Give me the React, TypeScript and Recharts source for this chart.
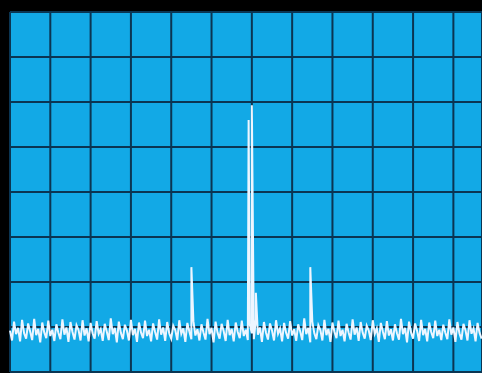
import { ComposedChart, Line, XAxis, YAxis, CartesianGrid } from "recharts";

// noise floor of the trace, one sample every 0.05 division
const noise = [
  0.92, 0.70, 1.12, 0.84, 0.98, 0.68, 1.16, 0.86, 0.74, 1.08, 0.90, 0.71, 1.18, 0.82, 0.96, 0.66, 1.10, 0.88, 0.75, 1.14,
  0.80, 0.94, 0.69, 1.06, 0.87, 0.73, 1.17, 0.83, 0.99, 0.67, 1.11, 0.89, 0.72, 1.04, 0.93, 0.70, 1.15, 0.81, 0.97, 0.68,
  1.09, 0.86, 0.74, 1.13, 0.85, 0.95, 0.69, 1.07, 0.90, 0.71, 1.19, 0.84, 0.98, 0.66, 1.12, 0.87, 0.73, 1.05, 0.92, 0.70,
  1.16, 0.82, 0.96, 0.67, 1.10, 0.88, 0.75, 1.14, 0.80, 0.94, 0.68, 1.08, 0.89, 0.72, 1.17, 0.83, 0.99, 0.69, 1.11, 0.86,
  0.74, 1.03, 0.93, 0.71, 1.15, 0.85, 0.97, 0.67, 1.09, 0.90, 0.73, 1.13, 0.81, 0.95, 0.70, 1.06, 0.88, 0.72, 1.18, 0.84,
  0.98, 0.66, 1.12, 0.87, 0.74, 1.07, 0.91, 0.69, 1.16, 0.82, 0.96, 0.68, 1.10, 0.89, 0.75, 1.14, 0.80, 0.94, 0.71, 1.05,
  0.86, 0.73, 1.17, 0.83, 0.99, 0.67, 1.11, 0.88, 0.72, 1.08, 0.92, 0.70, 1.15, 0.85, 0.97, 0.68, 1.09, 0.87, 0.74, 1.13,
  0.81, 0.95, 0.69, 1.06, 0.90, 0.71, 1.19, 0.84, 0.98, 0.66, 1.12, 0.86, 0.73, 1.04, 0.93, 0.70, 1.16, 0.82, 0.96, 0.67,
  1.10, 0.89, 0.75, 1.14, 0.80, 0.94, 0.68, 1.07, 0.88, 0.72, 1.17, 0.83, 0.99, 0.69, 1.11, 0.87, 0.74, 1.03, 0.92, 0.71,
  1.15, 0.85, 0.97, 0.67, 1.09, 0.90, 0.73, 1.13, 0.81, 0.95, 0.70, 1.06, 0.86, 0.72, 1.18, 0.84, 0.98, 0.66, 1.12, 0.88,
  0.74, 1.08, 0.91, 0.69, 1.16, 0.82, 0.96, 0.68, 1.10, 0.89, 0.75, 1.14, 0.80, 0.94, 0.71, 1.05, 0.87, 0.73, 1.17, 0.83,
  0.99, 0.67, 1.11, 0.86, 0.72, 1.07, 0.93, 0.70, 1.15, 0.85, 0.97, 0.68, 1.09, 0.87, 0.74,
];
const noiseStep = 0.05;

// spectral lines (division, level)
const peakX = [4.5, 5.92, 6.0, 6.1, 7.45];
const peakY = [2.33, 5.6, 5.93, 1.76, 2.33];

const xTicks = [0, 1, 2, 3, 4, 5, 6, 7, 8, 9, 10, 11];
const yTicks = [0, 1, 2, 3, 4, 5, 6, 7, 8];

const data = [
  ...noise.map((v, i) => ({ x: +(i * noiseStep).toFixed(2), y: v })),
  ...peakX.map((x, i) => ({ x, y: peakY[i] })),
].sort((a, b) => a.x - b.x);

export default function App() {
  return (
    <div style={{ position: "absolute", left: 0, top: 0, width: 482, height: 375, background: "#fff", overflow: "hidden" }}>
      <ComposedChart
        width={482}
        height={373}
        data={data}
        margin={{ top: 12, right: 0, bottom: 1, left: 10 }}
        style={{ background: "#000" }}
      >
        <CartesianGrid
          fill="#12a9e6"
          fillOpacity={1}
          stroke="#0b3552"
          strokeWidth={2}
        />
        <XAxis type="number" dataKey="x" domain={[0, 11.71]} ticks={xTicks} hide />
        <YAxis type="number" domain={[0, 8]} ticks={yTicks} hide />
        <Line
          type="linear"
          dataKey="y"
          stroke="#eef6ff"
          strokeWidth={2}
          dot={false}
          isAnimationActive={false}
        />
      </ComposedChart>
    </div>
  );
}
